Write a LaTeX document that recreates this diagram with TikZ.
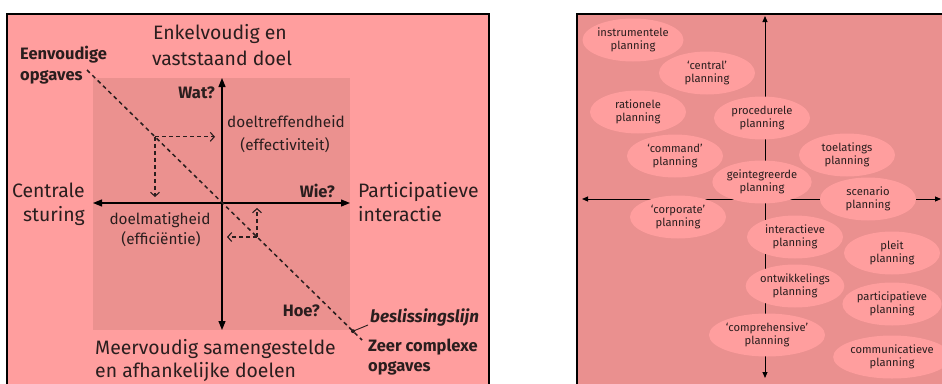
\documentclass[tikz,border=0pt]{standalone}
\usepackage{fontspec}
\setmainfont{Fira Sans}
\usetikzlibrary{arrows.meta,shapes.geometric}
\definecolor{paleRose}{HTML}{FF9E9E}
\definecolor{deepRose}{HTML}{EB918F}
\definecolor{fieldRose}{HTML}{EA908F}
\definecolor{inkDark}{HTML}{2A1E1E}

\begin{document}
\begin{tikzpicture}[x=1pt,y=-1pt,
  big/.style={inner sep=0, text=inkDark, font=\fontsize{19.4}{21}\selectfont},
  mid/.style={inner sep=0, text=inkDark, font=\fontsize{15.3}{17}\selectfont},
  midb/.style={inner sep=0, text=inkDark, font=\fontsize{16.5}{18}\selectfont\bfseries},
  axisline/.style={line width=1.2, draw=black, {Triangle[length=9,width=7]}-{Triangle[length=9,width=7]}},
  guide/.style={line width=1.1, draw=inkDark, dash pattern=on 4 off 3, -{Straight Barb[length=4,width=9]}},
  decision/.style={line width=1.5, draw=inkDark, dash pattern=on 4 off 3.5},
  plan/.style={ellipse, fill=paleRose, minimum width=96, minimum height=43, inner sep=0,
    align=center, text=inkDark, font=\fontsize{11.2}{13.5}\selectfont},
  raxis/.style={line width=1, draw=black, {Triangle[length=6,width=5]}-{Triangle[length=6,width=5]}}
]
\useasboundingbox (0,0) rectangle (942,383);

% ---------- left panel: goals versus steering ----------
\fill[paleRose] (7,14) rectangle (489,390);
\fill[deepRose] (93,78) rectangle (350,330);
\draw[line width=1.6] (7,390) -- (7,14) -- (489,14) -- (489,390);

\coordinate (vTop) at (222,78);
\coordinate (vBot) at (222,330);
\coordinate (hL) at (93,203);
\coordinate (hR) at (350,203);
\draw[axisline] (vBot) -- (vTop);
\draw[axisline] (hL) -- (hR);

% decision line and the two dashed shifts
\coordinate (dStart) at (87,70);
\coordinate (dEnd) at (362,340);
\coordinate (dMark) at (353,331.2);
\coordinate (tagEnd) at (368,325);
\draw[decision] (dStart) -- (dEnd);
\fill[inkDark] (dMark) circle (2);
\draw[line width=0.9, inkDark] (dMark) -- (tagEnd);

\coordinate (pA) at (155,136.8);
\coordinate (pAr) at (215,136.8);
\coordinate (pAd) at (155,197);
\coordinate (pB) at (257,237);
\coordinate (pBl) at (227,237);
\coordinate (pBu) at (257,208);
\draw[guide] (pA) -- (pAr);
\draw[guide] (pA) -- (pAd);
\draw[guide] (pB) -- (pBl);
\draw[guide] (pB) -- (pBu);

% texts
\node[big, anchor=base] (topA) at (220,39) {Enkelvoudig en};
\node[big, anchor=base] (topB) at (222,65) {vaststaand doel};
\node[midb, anchor=base west] (easyA) at (20,59) {Eenvoudige};
\node[midb, anchor=base west] (easyB) at (20,80) {opgaves};
\node[midb, anchor=base east] (qWat) at (215,98) {Wat?};
\node[mid, anchor=base west] (effA) at (227,127) {doeltreffendheid};
\node[mid, anchor=base] (effB) at (285,150) {(effectiviteit)};
\node[big, anchor=base east] (leftA) at (85,197) {Centrale};
\node[big, anchor=base east] (leftB) at (85,221) {sturing};
\node[midb, anchor=base east] (qWie) at (335,197) {Wie?};
\node[big, anchor=base west] (rightA) at (358,197) {Participatieve};
\node[big, anchor=base west] (rightB) at (358,221) {interactie};
\node[mid, anchor=base] (effiA) at (160,224) {doelmatigheid};
\node[mid, anchor=base] (effiB) at (161,244) {(efficiëntie)};
\node[midb, anchor=base east] (qHoe) at (320,316) {Hoe?};
\node[inner sep=0, text=inkDark, anchor=base west, font=\fontsize{17}{19}\selectfont\bfseries\itshape] (tag) at (370,322) {beslissingslijn};
\node[midb, anchor=base west] (hardA) at (368,351) {Zeer complexe};
\node[midb, anchor=base west] (hardB) at (368,371) {opgaves};
\node[big, anchor=base west] (botA) at (95,354) {Meervoudig samengestelde};
\node[big, anchor=base west] (botB) at (95,377) {en afhankelijke doelen};

% ---------- right panel: planning approaches ----------
\fill[fieldRose] (577,14) rectangle (945,390);
\draw[line width=1.6] (577,390) -- (577,14) -- (945,14);

\coordinate (rTop) at (765,16);
\coordinate (rBot) at (765,378);
\coordinate (rL) at (582,199);
\coordinate (rR) at (941,199);
\draw[raxis] (rBot) -- (rTop);
\draw[raxis] (rL) -- (rR);

\node[plan] (instr) at (633,40) {instrumentele\\planning};
\node[plan] (central) at (707,73) {‘central’\\planning};
\node[plan] (ration) at (638,112) {rationele\\planning};
\node[plan] (proced) at (762,118) {procedurele\\planning};
\node[plan] (command) at (675,156) {‘command’\\planning};
\node[plan] (toelat) at (847,155) {toelatings\\planning};
\node[plan] (integr) at (762,182) {geintegreerde\\planning};
\node[plan] (scen) at (868,199) {scenario\\planning};
\node[plan] (corp) at (678,217) {‘corporate’\\planning};
\node[plan] (inter) at (795,237) {interactieve\\planning};
\node[plan] (pleit) at (892,253) {pleit\\planning};
\node[plan] (ontw) at (795,286) {ontwikkelings\\planning};
\node[plan] (partic) at (892,304) {participatieve\\planning};
\node[plan] (compr) at (767,335) {‘comprehensive’\\planning};
\node[plan] (commu) at (892,357) {communicatieve\\planning};
\end{tikzpicture}
\end{document}
